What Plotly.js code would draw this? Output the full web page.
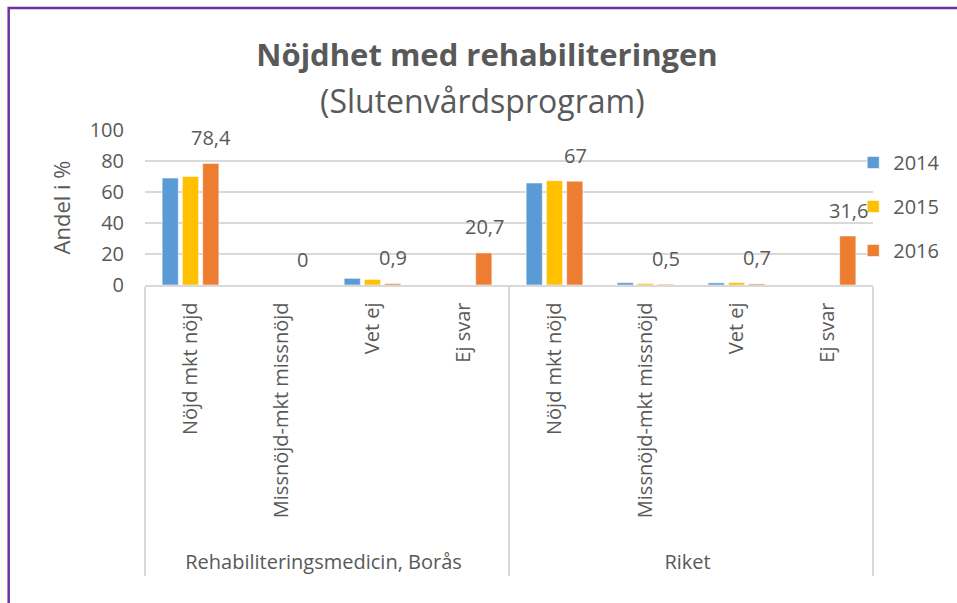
<!DOCTYPE html>
<html>
<head>
<meta charset="utf-8">
<script src="https://cdn.plot.ly/plotly-3.0.1.min.js"></script>
<style>
  html, body { margin: 0; padding: 0; background: #fff; }
  #chart { width: 957px; height: 603px; }
</style>
</head>
<body>
<div id="chart"></div>
<script>
// ---- data ----
const groups = ["Rehabiliteringsmedicin, Borås", "Rehabiliteringsmedicin, Borås", "Rehabiliteringsmedicin, Borås", "Rehabiliteringsmedicin, Borås",
                "Riket", "Riket", "Riket", "Riket"];
// (leading no-break spaces on the longest label only reserve room below it, as in the reference)
const categories = ["Nöjd mkt nöjd", "\u00A0\u00A0\u00A0\u00A0Missnöjd-mkt missnöjd", "Vet ej", "Ej svar",
                    "Nöjd mkt nöjd", "\u00A0\u00A0\u00A0\u00A0Missnöjd-mkt missnöjd", "Vet ej", "Ej svar"];
const years = ["2014", "2015", "2016"];
const values2014 = [69.0, 0, 4.3, null, 65.8, 1.5, 1.4, null];
const values2015 = [70.0, 0, 3.6, null, 67.3, 1.0, 1.6, null];
const values2016 = [78.4, 0, 0.9, 20.7, 67.0, 0.5, 0.7, 31.6];
const labels2016 = ["78,4", "0", "0,9", "20,7", "67", "0,5", "0,7", "31,6"];
const yTickVals = [0, 20, 40, 60, 80, 100];

// ---- style ----
const colors = ["#5B9BD5", "#FFC000", "#ED7D31"];
const txt = "#595959";
const FONT = "Open Sans, Liberation Sans, sans-serif";
const series = [values2014, values2015, values2016];

const traces = series.map((vals, i) => ({
  type: "bar",
  name: years[i],
  x: [groups, categories],
  y: vals,
  legendgroup: "g" + i,
  marker: { color: colors[i], line: { color: "rgba(255,255,255,0.55)", width: 1 } },
  hoverinfo: "skip"
}));

// plot area geometry (pixels)
const L = 145, R = 882, T = 130, B = 285, W = 957, H = 603;
const py = p => (B - p) / (B - T);
const px = p => (p - L) / (R - L);

const annotations = values2016.map((v, i) => ({
  x: i, y: v, xref: "x", yref: "y",
  text: labels2016[i], showarrow: false,
  xanchor: "center", yanchor: "middle",
  xshift: 20.5, yshift: 26,
  font: { family: FONT, size: 20, color: txt }
}));
annotations.push({
  xref: "paper", yref: "paper", x: px(487), y: py(100),
  xanchor: "center", yanchor: "middle", showarrow: false,
  text: "(Slutenvårdsprogram)",
  font: { family: FONT, size: 32, color: txt }
});

const layout = {
  width: W, height: H,
  paper_bgcolor: "#fff", plot_bgcolor: "#fff",
  margin: { l: L, r: W - R, t: T, b: H - B, pad: 0 },
  font: { family: FONT, size: 20, color: txt },
  title: {
    text: "<b>Nöjdhet med rehabiliteringen</b>",
    xref: "container", yref: "container",
    x: 487 / W, y: 1 - 55 / H, xanchor: "center", yanchor: "middle",
    font: { family: FONT, size: 31, color: txt }
  },
  barmode: "group",
  bargap: 0.332,
  bargroupgap: 0.2,
  showlegend: true,
  legend: {
    x: px(862), y: py(143), xanchor: "left", yanchor: "top",
    font: { family: FONT, size: 20, color: txt },
    traceorder: "grouped", tracegroupgap: 15,
    bgcolor: "rgba(255,255,255,0)"
  },
  xaxis: {
    type: "multicategory",
    automargin: false,
    tickangle: -90,
    showline: true, linecolor: "#d9d9d9", linewidth: 1.5,
    showdividers: true, dividercolor: "#d9d9d9", dividerwidth: 1.5,
    ticks: "", showgrid: false,
    ticklabelstandoff: 8,
    tickfont: { family: FONT, size: 20, color: txt }
  },
  yaxis: {
    range: [0, 100],
    tickvals: yTickVals,
    ticktext: yTickVals.map(String),
    automargin: false,
    showgrid: true, gridcolor: "#d9d9d9", gridwidth: 1.5,
    zeroline: false, showline: false,
    ticks: "", ticklabelstandoff: 20,
    tickfont: { family: FONT, size: 20, color: txt },
    title: { text: "Andel i %", standoff: 12, font: { family: FONT, size: 22, color: txt } }
  },
  annotations: annotations,
  shapes: [{
    type: "rect", xref: "paper", yref: "paper",
    x0: px(7), x1: px(1100), y0: py(800), y1: py(8),
    line: { color: "#7030A0", width: 2.5 }, fillcolor: "rgba(0,0,0,0)", layer: "above"
  }]
};

Plotly.newPlot("chart", traces, layout, { staticPlot: true, displayModeBar: false });
</script>
</body>
</html>
